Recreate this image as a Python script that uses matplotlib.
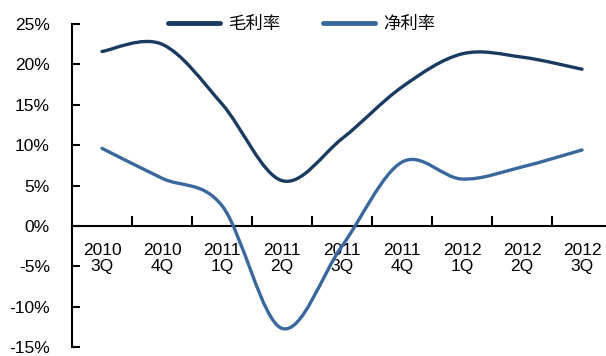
import matplotlib
matplotlib.use("Agg")
import matplotlib.pyplot as plt
from matplotlib.path import Path
from matplotlib.patches import PathPatch
from matplotlib.lines import Line2D
import numpy as np

categories = ["2010\n3Q", "2010\n4Q", "2011\n1Q", "2011\n2Q", "2011\n3Q",
              "2011\n4Q", "2012\n1Q", "2012\n2Q", "2012\n3Q"]
gross_margin = [21.6, 22.5, 15.1, 5.6, 10.8, 17.2, 21.3, 20.9, 19.4]
net_margin = [9.6, 5.9, 2.5, -12.7, -2.5, 7.9, 5.8, 7.3, 9.4]
series_names = ["毛利率", "净利率"]
yticks = [-15, -10, -5, 0, 5, 10, 15, 20, 25]

c_gross = "#1B3A60"
c_net = "#3A679C"

plt.rcParams['font.family'] = ['Liberation Sans', 'DejaVu Sans']

fig = plt.figure(figsize=(6.06, 3.56), dpi=100)
ax = fig.add_axes([72/606, 9/356, 540/606, 323/356])


def smooth_path(xs, ys):
    pts = np.column_stack([xs, ys]).astype(float)
    n = len(pts)
    verts = [pts[0]]
    codes = [Path.MOVETO]
    for i in range(n - 1):
        p0 = pts[i - 1] if i > 0 else pts[i]
        p1 = pts[i]
        p2 = pts[i + 1]
        p3 = pts[i + 2] if i + 2 < n else pts[i + 1]
        c1 = p1 + (p2 - p0) / 6.0
        c2 = p2 - (p3 - p1) / 6.0
        verts += [c1, c2, p2]
        codes += [Path.CURVE4] * 3
    return Path(verts, codes)


x = np.arange(len(categories))
for vals, col in [(gross_margin, c_gross), (net_margin, c_net)]:
    patch = PathPatch(smooth_path(x, vals), fill=False, edgecolor=col,
                      linewidth=2.4, capstyle='round', joinstyle='round', zorder=3)
    ax.add_patch(patch)

ax.set_xlim(-0.5, len(categories) - 0.5)
ax.set_ylim(-15, 25)

ax.spines['top'].set_visible(False)
ax.spines['right'].set_visible(False)
ax.spines['bottom'].set_position(('data', 0))
ax.spines['left'].set_linewidth(1.5)
ax.spines['bottom'].set_linewidth(1.5)

ax.set_yticks(yticks)
ax.set_yticklabels([f"{v}%" for v in yticks], fontsize=12.5)
ax.tick_params(axis='y', direction='in', length=6, width=1.5, pad=16)

ax.set_xticks(x)
ax.set_xticklabels(categories, fontsize=12.5, linespacing=1.15)
ax.set_xticks(np.arange(len(categories) - 1) + 0.5, minor=True)
ax.tick_params(axis='x', which='major', length=0, pad=12)
ax.tick_params(axis='x', which='minor', direction='in', length=7, width=1.5)

handles = [Line2D([], [], color=c_gross, linewidth=3.5, solid_capstyle='round'),
           Line2D([], [], color=c_net, linewidth=3.5, solid_capstyle='round')]
fig.legend(handles, series_names, loc='center', ncol=2, frameon=False,
           bbox_to_anchor=(302/606, 1 - 24/356),
           prop={'family': ['Noto Sans CJK SC', 'DejaVu Sans'], 'size': 12.5},
           handlelength=3.0, handletextpad=0.5, columnspacing=2.4)

fig.savefig("out.png", dpi=100)
